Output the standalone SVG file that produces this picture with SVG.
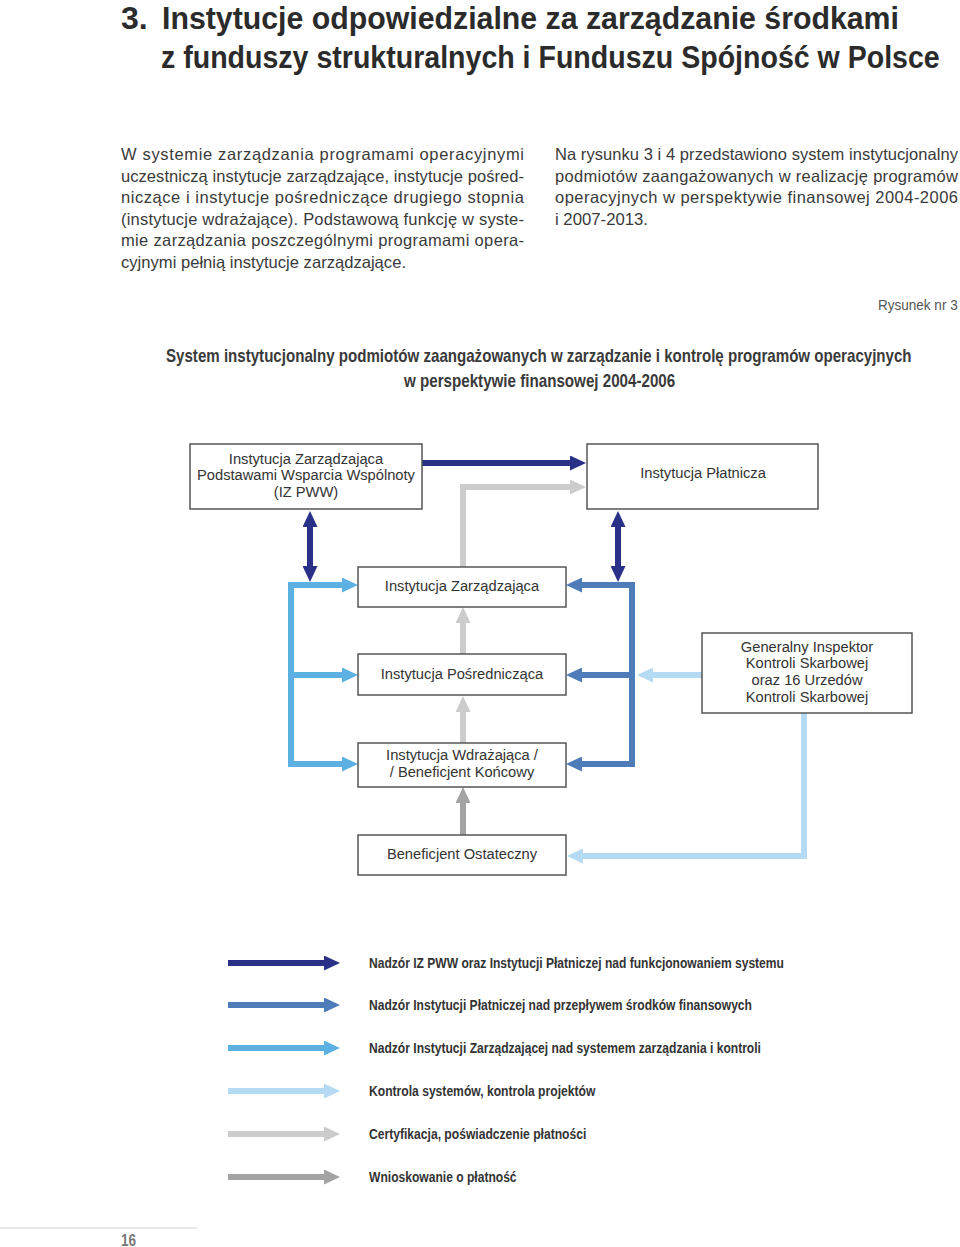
<svg xmlns="http://www.w3.org/2000/svg" width="960" height="1247" viewBox="0 0 960 1247">
<style>
.ttl{font-family:"Liberation Sans",Arial,sans-serif;font-size:32px;fill:#2b2b2b;font-weight:bold}
.p{font-family:"Liberation Sans",Arial,sans-serif;font-size:16.5px;fill:#3a3a3a}
.cap{font-family:"Liberation Sans",Arial,sans-serif;font-size:15px;fill:#555}
.ft{font-family:"Liberation Sans",Arial,sans-serif;font-size:18px;font-weight:bold;fill:#3a3a3a}
.nt{font-family:"Liberation Sans",Arial,sans-serif;font-size:14.7px;fill:#333;text-anchor:middle}
.lg{font-family:"Liberation Sans",Arial,sans-serif;font-size:14px;font-weight:bold;fill:#333}
.box{fill:#fff;stroke:#555;stroke-width:1.5}
.c{fill:none;stroke-width:6}
.navy{stroke:#2b3087}.mid{stroke:#4e7cb9}.lb{stroke:#5cb0e2}.pale{stroke:#b5daf3}.lg1{stroke:#cccccc}.dg{stroke:#a3a3a3}
</style>
<defs>
<marker id="hNavy" markerUnits="userSpaceOnUse" markerWidth="16" markerHeight="15" refX="0" refY="7.5" orient="auto-start-reverse"><path d="M0,0 L16,7.5 L0,15 z" fill="#2b3087"/></marker>
<marker id="hMid" markerUnits="userSpaceOnUse" markerWidth="16" markerHeight="15" refX="0" refY="7.5" orient="auto-start-reverse"><path d="M0,0 L16,7.5 L0,15 z" fill="#4e7cb9"/></marker>
<marker id="hLb" markerUnits="userSpaceOnUse" markerWidth="16" markerHeight="15" refX="0" refY="7.5" orient="auto-start-reverse"><path d="M0,0 L16,7.5 L0,15 z" fill="#5cb0e2"/></marker>
<marker id="hPale" markerUnits="userSpaceOnUse" markerWidth="16" markerHeight="15" refX="0" refY="7.5" orient="auto-start-reverse"><path d="M0,0 L16,7.5 L0,15 z" fill="#b5daf3"/></marker>
<marker id="hLg" markerUnits="userSpaceOnUse" markerWidth="16" markerHeight="15" refX="0" refY="7.5" orient="auto-start-reverse"><path d="M0,0 L16,7.5 L0,15 z" fill="#cccccc"/></marker>
<marker id="hDg" markerUnits="userSpaceOnUse" markerWidth="16" markerHeight="15" refX="0" refY="7.5" orient="auto-start-reverse"><path d="M0,0 L16,7.5 L0,15 z" fill="#a3a3a3"/></marker>
</defs>
<rect width="960" height="1247" fill="#fff"/>

<g id="heading">
<text class="ttl" x="121" y="29">3.</text>
<text class="ttl" transform="translate(162,29) scale(0.94,1)" x="0" y="0" textLength="784" lengthAdjust="spacingAndGlyphs">Instytucje odpowiedzialne za zarządzanie środkami</text>
<text class="ttl" transform="translate(161,68) scale(0.89,1)" x="0" y="0" textLength="875" lengthAdjust="spacingAndGlyphs">z funduszy strukturalnych i Funduszu Spójność w Polsce</text>
</g>

<g id="text-left">
<text class="p" x="121" y="160" textLength="403" lengthAdjust="spacing">W systemie zarządzania programami operacyjnymi</text>
<text class="p" x="121" y="181.5" textLength="403" lengthAdjust="spacing">uczestniczą instytucje zarządzające, instytucje pośred-</text>
<text class="p" x="121" y="203" textLength="403" lengthAdjust="spacing">niczące i instytucje pośredniczące drugiego stopnia</text>
<text class="p" x="121" y="224.5" textLength="403" lengthAdjust="spacing">(instytucje wdrażające). Podstawową funkcję w syste-</text>
<text class="p" x="121" y="246" textLength="403" lengthAdjust="spacing">mie zarządzania poszczególnymi programami opera-</text>
<text class="p" x="121" y="267.5" textLength="285" lengthAdjust="spacingAndGlyphs">cyjnymi pełnią instytucje zarządzające.</text>
</g>

<g id="text-right">
<text class="p" x="555" y="160" textLength="403" lengthAdjust="spacing">Na rysunku 3 i 4 przedstawiono system instytucjonalny</text>
<text class="p" x="555" y="181.5" textLength="403" lengthAdjust="spacing">podmiotów zaangażowanych w realizację programów</text>
<text class="p" x="555" y="203" textLength="403" lengthAdjust="spacing">operacyjnych w perspektywie finansowej 2004-2006</text>
<text class="p" x="555" y="224.5" textLength="93" lengthAdjust="spacingAndGlyphs">i 2007-2013.</text>
</g>

<g id="figure-caption">
<text class="cap" transform="translate(878,310) scale(0.83,1)" x="0" y="0" textLength="96" lengthAdjust="spacingAndGlyphs">Rysunek nr 3</text>
<text class="ft" transform="translate(166,362) scale(0.8,1)" x="0" y="0" textLength="932" lengthAdjust="spacingAndGlyphs">System instytucjonalny podmiotów zaangażowanych w zarządzanie i kontrolę programów operacyjnych</text>
<text class="ft" transform="translate(404,387) scale(0.8,1)" x="0" y="0" textLength="339" lengthAdjust="spacingAndGlyphs">w perspektywie finansowej 2004-2006</text>
</g>

<g id="connectors">
<path class="c navy" d="M422,463 H570" marker-end="url(#hNavy)"/>
<path class="c lg1" d="M463,567 V487 H570" marker-end="url(#hLg)"/>
<path class="c navy" d="M310,527 V566" marker-start="url(#hNavy)" marker-end="url(#hNavy)"/>
<path class="c navy" d="M618,527 V566" marker-start="url(#hNavy)" marker-end="url(#hNavy)"/>
<path class="c lb" d="M342,585 H291 V764 H342" marker-start="url(#hLb)" marker-end="url(#hLb)"/>
<path class="c lb" d="M291,675 H342" marker-end="url(#hLb)"/>
<path class="c mid" d="M582,585 H632 V764 H582" marker-start="url(#hMid)" marker-end="url(#hMid)"/>
<path class="c mid" d="M632,675 H582" marker-end="url(#hMid)"/>
<path class="c pale" d="M702,675 H653" marker-end="url(#hPale)"/>
<path class="c pale" d="M804,713 V856 H583" marker-end="url(#hPale)"/>
<path class="c lg1" d="M463,654 V623" marker-end="url(#hLg)"/>
<path class="c lg1" d="M463,743 V712" marker-end="url(#hLg)"/>
<path class="c dg" d="M463,835 V803" marker-end="url(#hDg)"/>
</g>

<g id="node-iz-pww">
<rect class="box" x="190" y="444" width="232" height="65"/>
<text class="nt" x="306" y="463.5">Instytucja Zarządzająca</text>
<text class="nt" x="306" y="480">Podstawami Wsparcia Wspólnoty</text>
<text class="nt" x="306" y="496.5">(IZ PWW)</text>
</g>
<g id="node-ip-platnicza">
<rect class="box" x="587" y="444" width="231" height="65"/>
<text class="nt" x="703" y="478">Instytucja Płatnicza</text>
</g>
<g id="node-iz">
<rect class="box" x="358" y="567" width="208" height="40"/>
<text class="nt" x="462" y="591">Instytucja Zarządzająca</text>
</g>
<g id="node-ip">
<rect class="box" x="358" y="654" width="208" height="41"/>
<text class="nt" x="462" y="679">Instytucja Pośrednicząca</text>
</g>
<g id="node-iw">
<rect class="box" x="358" y="743" width="208" height="44"/>
<text class="nt" x="462" y="760">Instytucja Wdrażająca /</text>
<text class="nt" x="462" y="776.5">/ Beneficjent Końcowy</text>
</g>
<g id="node-bo">
<rect class="box" x="358" y="835" width="208" height="40"/>
<text class="nt" x="462" y="859">Beneficjent Ostateczny</text>
</g>
<g id="node-giks">
<rect class="box" x="702" y="633" width="210" height="80"/>
<text class="nt" x="807" y="651.5">Generalny Inspektor</text>
<text class="nt" x="807" y="668">Kontroli Skarbowej</text>
<text class="nt" x="807" y="685">oraz 16 Urzedów</text>
<text class="nt" x="807" y="701.5">Kontroli Skarbowej</text>
</g>

<g id="legend">
<path class="c navy" d="M228,963 H324" marker-end="url(#hNavy)"/>
<text class="lg" transform="translate(369,968) scale(0.82,1)" x="0" y="0" textLength="506" lengthAdjust="spacingAndGlyphs">Nadzór IZ PWW oraz Instytucji Płatniczej nad funkcjonowaniem systemu</text>
<path class="c mid" d="M228,1005 H324" marker-end="url(#hMid)"/>
<text class="lg" transform="translate(369,1010) scale(0.82,1)" x="0" y="0" textLength="467" lengthAdjust="spacingAndGlyphs">Nadzór Instytucji Płatniczej nad przepływem środków finansowych</text>
<path class="c lb" d="M228,1048 H324" marker-end="url(#hLb)"/>
<text class="lg" transform="translate(369,1053) scale(0.82,1)" x="0" y="0" textLength="478" lengthAdjust="spacingAndGlyphs">Nadzór Instytucji Zarządzającej nad systemem zarządzania i kontroli</text>
<path class="c pale" d="M228,1091 H324" marker-end="url(#hPale)"/>
<text class="lg" transform="translate(369,1096) scale(0.82,1)" x="0" y="0" textLength="276" lengthAdjust="spacingAndGlyphs">Kontrola systemów, kontrola projektów</text>
<path class="c lg1" d="M228,1134 H324" marker-end="url(#hLg)"/>
<text class="lg" transform="translate(369,1139) scale(0.82,1)" x="0" y="0" textLength="265" lengthAdjust="spacingAndGlyphs">Certyfikacja, poświadczenie płatności</text>
<path class="c dg" d="M228,1177 H324" marker-end="url(#hDg)"/>
<text class="lg" transform="translate(369,1182) scale(0.82,1)" x="0" y="0" textLength="180" lengthAdjust="spacingAndGlyphs">Wnioskowanie o płatność</text>
</g>

<g id="footer">
<line x1="0" y1="1228" x2="197" y2="1228" stroke="#d0d0d0" stroke-width="1"/>
<text transform="translate(121,1246) scale(0.85,1)" x="0" y="0" font-family="'Liberation Sans',Arial,sans-serif" font-size="16" font-weight="bold" fill="#777">16</text>
</g>
</svg>
